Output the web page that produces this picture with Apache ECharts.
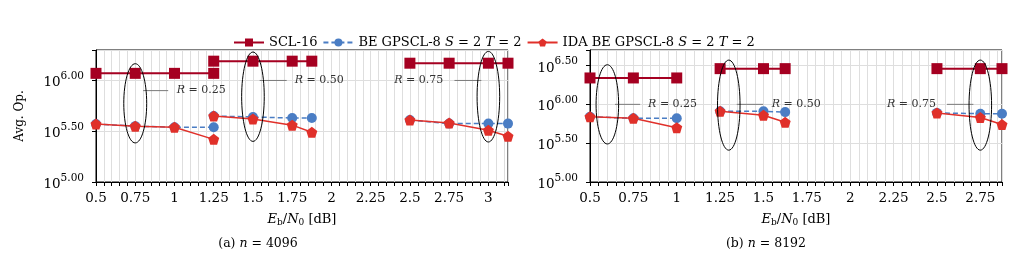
<!DOCTYPE html>
<html>
<head>
<meta charset="utf-8">
<script src="https://cdn.jsdelivr.net/npm/echarts@6/dist/echarts.min.js"></script>
<style>
  html, body { margin: 0; padding: 0; background: #fff; }
  #main { width: 1014px; height: 267px; }
</style>
</head>
<body>
<div id="main"></div>
<script>
// (a) n = 4096, one sub-array per rate group (R = 0.25, 0.50, 0.75)
const ebnoA = [[0.5, 0.75, 1, 1.25], [1.25, 1.5, 1.75, 1.875], [2.5, 2.75, 3, 3.125]];
const sclA = [[6.07, 6.07, 6.07, 6.07], [6.19, 6.19, 6.19, 6.19], [6.17, 6.17, 6.17, 6.17]];
const beA = [[5.57, 5.55, 5.54, 5.54], [5.65, 5.64, 5.63, 5.63], [5.61, 5.575, 5.575, 5.575]];
const idaA = [[5.57, 5.55, 5.54, 5.42], [5.65, 5.62, 5.56, 5.49], [5.61, 5.58, 5.51, 5.45]];

// (b) n = 8192
const ebnoB = [[0.5, 0.75, 1], [1.25, 1.5, 1.625], [2.5, 2.75, 2.875]];
const sclB = [[6.34, 6.34, 6.34], [6.46, 6.46, 6.46], [6.46, 6.46, 6.46]];
const beB = [[5.84, 5.82, 5.82], [5.91, 5.91, 5.90], [5.89, 5.88, 5.88]];
const idaB = [[5.84, 5.82, 5.70], [5.91, 5.86, 5.77], [5.89, 5.83, 5.74]];

// ellipses: [x, y, half width, half height] in axis units (y = log10)
const ellA = [[0.75, 5.775, 0.073, 0.39], [1.5, 5.84, 0.072, 0.44], [3, 5.84, 0.072, 0.446]];
const ellB = [[0.6, 6.0, 0.065, 0.51], [1.3, 5.99, 0.065, 0.58], [2.75, 5.99, 0.065, 0.58]];

// rate notes: [line x1, line x2, y, text x, rate]
const noteA = [[0.80, 0.96, 5.90, 1.015, '0.25'], [1.543, 1.715, 6.0, 1.766, '0.50'], [2.784, 2.955, 6.0, 2.40, '0.75']];
const noteB = [[0.644, 0.789, 6.0, 0.835, '0.25'], [1.346, 1.498, 6.0, 1.548, '0.50'], [2.558, 2.71, 6.0, 2.212, '0.75']];

const names = ['SCL-16', 'BE GPSCL-8 S = 2 T = 2', 'IDA BE GPSCL-8 S = 2 T = 2'];
const colors = ['#a50021', '#4a7dc4', '#e0302a'];
const pentagon = 'path://M0,-1L0.951,-0.309L0.588,0.809L-0.588,0.809L-0.951,-0.309Z';

const FONT = 'DejaVu Serif';

const chart = echarts.init(document.getElementById('main'));

function xAxisFor(gi, max) {
  return {
    type: 'value', gridIndex: gi, min: 0.5, max: max, interval: 0.05,
    name: '{i|E}{s|b}/{i|N}{s|0} [dB]', nameLocation: 'middle', nameGap: 30,
    nameTextStyle: {
      fontFamily: FONT, fontSize: 13, color: '#000',
      rich: {
        i: { fontFamily: FONT, fontSize: 13, fontStyle: 'italic', color: '#000' },
        s: { fontFamily: FONT, fontSize: 9, color: '#000', padding: [6, 0, 0, 0] }
      }
    },
    axisLine: { show: true, lineStyle: { color: '#000', width: 1 } },
    axisTick: { show: true, length: 4, lineStyle: { color: '#000' } },
    axisLabel: {
      fontFamily: FONT, fontSize: 13.5, color: '#000', margin: 9,
      formatter: function (v) {
        return Math.abs(v * 4 - Math.round(v * 4)) < 1e-6 && v < max - 0.01 ? String(+v.toFixed(2)) : '';
      }
    },
    splitLine: { show: true, lineStyle: { color: '#dedede', width: 1 } }
  };
}

function yAxisFor(gi, max, withName) {
  return {
    type: 'value', gridIndex: gi, min: 5, max: max, interval: 0.5,
    name: withName ? 'Avg. Op.' : '', nameLocation: 'middle', nameGap: 70,
    nameTextStyle: { fontFamily: FONT, fontSize: 12, color: '#000' },
    axisLine: { show: true, lineStyle: { color: '#000', width: 1 } },
    axisTick: { show: true, length: 4, lineStyle: { color: '#000' } },
    axisLabel: {
      margin: 12, color: '#000',
      formatter: function (v) {
        if (Math.abs(v * 2 - Math.round(v * 2)) > 1e-6) return '';
        return '{b|10}{s|' + v.toFixed(2) + '}';
      },
      rich: {
        b: { fontFamily: FONT, fontSize: 13.5, color: '#000', verticalAlign: 'bottom' },
        s: { fontFamily: FONT, fontSize: 10.5, color: '#000', verticalAlign: 'bottom', padding: [0, 0, 8, 0] }
      }
    },
    splitLine: { show: true, lineStyle: { color: '#dedede', width: 1 } }
  };
}

function lineSeries(gi, xs, ys, k) {
  const s = {
    name: names[k], type: 'line', xAxisIndex: gi, yAxisIndex: gi,
    data: xs.map((x, i) => [x, ys[i]]),
    itemStyle: { color: colors[k] },
    lineStyle: { color: colors[k], width: 1.5 },
    animation: false, z: 3 + k
  };
  if (k === 0) { s.symbol = 'rect'; s.symbolSize = 11; s.lineStyle.width = 2; }
  if (k === 1) { s.symbol = 'circle'; s.symbolSize = 10; s.lineStyle.type = [5, 3]; s.z = 3; }
  if (k === 2) { s.symbol = pentagon; s.symbolSize = 11; s.z = 4; }
  return s;
}

function ellipseSeries(gi, ells) {
  return {
    type: 'custom', xAxisIndex: gi, yAxisIndex: gi, data: ells, z: 6, animation: false,
    silent: true,
    renderItem: function (params, api) {
      const c = api.coord([api.value(0), api.value(1)]);
      const e = api.coord([api.value(0) + api.value(2), api.value(1) + api.value(3)]);
      return {
        type: 'ellipse',
        shape: { cx: c[0], cy: c[1], rx: Math.abs(e[0] - c[0]), ry: Math.abs(c[1] - e[1]) },
        style: { fill: 'none', stroke: '#000', lineWidth: 1 }
      };
    }
  };
}

function noteSeries(gi, notes) {
  return {
    type: 'custom', xAxisIndex: gi, yAxisIndex: gi, z: 2, animation: false, silent: true,
    data: notes.map(n => [n[0], n[1], n[2], n[3]]),
    renderItem: function (params, api) {
      const a = api.coord([api.value(0), api.value(2)]);
      const b = api.coord([api.value(1), api.value(2)]);
      const t = api.coord([api.value(3), api.value(2)]);
      return {
        type: 'group',
        children: [
          { type: 'line', shape: { x1: a[0], y1: a[1], x2: b[0], y2: b[1] },
            style: { stroke: '#7a7a7a', lineWidth: 1 } },
          { type: 'text', x: t[0], y: t[1],
            style: {
              text: '{i|R} = ' + notes[params.dataIndex][4],
              fill: '#333', font: '11px "DejaVu Serif"', align: 'left', verticalAlign: 'middle',
              rich: { i: { fontStyle: 'italic', fontFamily: FONT, fontSize: 11, fill: '#333' } }
            } }
        ]
      };
    }
  };
}

const series = [];
[[ebnoA, [sclA, beA, idaA]], [ebnoB, [sclB, beB, idaB]]].forEach(function (pair, gi) {
  const xs = pair[0];
  pair[1].forEach(function (arr, k) {
    arr.forEach(function (ys, g) { series.push(lineSeries(gi, xs[g], ys, k)); });
  });
});
series.push(ellipseSeries(0, ellA), ellipseSeries(1, ellB));
series.push(noteSeries(0, noteA), noteSeries(1, noteB));

const option = {
  backgroundColor: '#fff',
  animation: false,
  legend: {
    data: names, left: 228, top: 31, itemWidth: 30, itemHeight: 10, itemGap: 5,
    textStyle: {
      fontFamily: FONT, fontSize: 13, color: '#000',
      rich: {
        n: { fontFamily: FONT, fontSize: 13, color: '#000' },
        i: { fontFamily: FONT, fontSize: 13, fontStyle: 'italic', color: '#000' }
      }
    },
    formatter: function (name) {
      if (name === 'SCL-16') return '{n|SCL-16}';
      const pre = name.indexOf('IDA') === 0 ? 'IDA BE GPSCL-8 ' : 'BE GPSCL-8 ';
      return '{n|' + pre + '}{i|S}{n| = 2 }{i|T}{n| = 2}';
    }
  },
  grid: [
    { left: 96, right: 506, top: 50, bottom: 85, show: true, borderColor: '#000', borderWidth: 1, backgroundColor: 'transparent' },
    { left: 590, right: 12, top: 50, bottom: 85, show: true, borderColor: '#000', borderWidth: 1, backgroundColor: 'transparent' }
  ],
  xAxis: [xAxisFor(0, 3.125), xAxisFor(1, 2.875)],
  yAxis: [yAxisFor(0, 6.3, true), yAxisFor(1, 6.7, false)],
  graphic: [
    { type: 'text', x: 258, y: 244,
      style: { text: '(a) {i|n} = 4096', font: '12.5px "DejaVu Serif"', fill: '#000', align: 'center', verticalAlign: 'middle',
        rich: { i: { fontStyle: 'italic', fontFamily: FONT, fontSize: 12.5, fill: '#000' } } } },
    { type: 'text', x: 766, y: 244,
      style: { text: '(b) {i|n} = 8192', font: '12.5px "DejaVu Serif"', fill: '#000', align: 'center', verticalAlign: 'middle',
        rich: { i: { fontStyle: 'italic', fontFamily: FONT, fontSize: 12.5, fill: '#000' } } } }
  ],
  series: series
};

chart.setOption(option);
</script>
</body>
</html>
